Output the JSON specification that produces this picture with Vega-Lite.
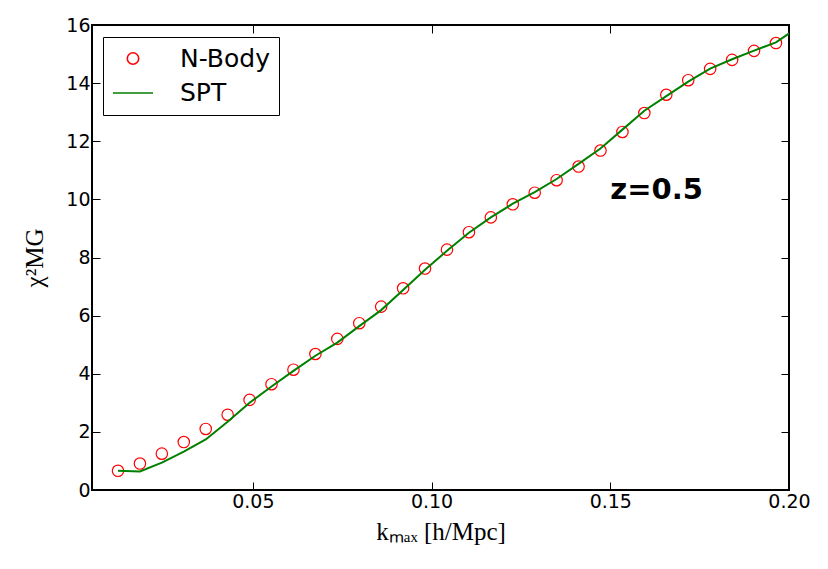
{
  "$schema": "https://vega.github.io/schema/vega-lite/v6.json",
  "width": 697,
  "height": 465,
  "autosize": {"type": "none"},
  "padding": {"left": 92, "top": 25, "right": 39, "bottom": 79},
  "background": "white",
  "config": {
    "view": {"stroke": "black", "strokeWidth": 2},
    "axis": {
      "domain": false,
      "grid": false,
      "ticks": true,
      "tickColor": "black",
      "tickSize": -8,
      "tickWidth": 1,
      "labelFlush": false,
      "labelFont": "DejaVu Sans",
      "labelFontSize": 19,
      "labelColor": "black",
      "labelPadding": 10,
      "titleColor": "black",
      "titleFont": "Liberation Serif",
      "titleFontWeight": "normal",
      "titleFontSize": 25
    },
    "legend": {
      "orient": "none",
      "legendX": 11,
      "legendY": 12,
      "labelFont": "DejaVu Sans",
      "labelFontSize": 25,
      "labelColor": "black",
      "strokeColor": "black",
      "fillColor": "white",
      "padding": 9,
      "rowPadding": 0,
      "symbolStrokeWidth": 1.6,
      "labelOffset": 26
    }
  },
  "datasets": {
    "nbody": [
      {"k": 0.01227, "chi2": 0.66, "series": "N-Body"},
      {"k": 0.01841, "chi2": 0.91, "series": "N-Body"},
      {"k": 0.02454, "chi2": 1.25, "series": "N-Body"},
      {"k": 0.03068, "chi2": 1.65, "series": "N-Body"},
      {"k": 0.03682, "chi2": 2.10, "series": "N-Body"},
      {"k": 0.04295, "chi2": 2.59, "series": "N-Body"},
      {"k": 0.04909, "chi2": 3.10, "series": "N-Body"},
      {"k": 0.05522, "chi2": 3.64, "series": "N-Body"},
      {"k": 0.06136, "chi2": 4.14, "series": "N-Body"},
      {"k": 0.06750, "chi2": 4.68, "series": "N-Body"},
      {"k": 0.07363, "chi2": 5.20, "series": "N-Body"},
      {"k": 0.07977, "chi2": 5.74, "series": "N-Body"},
      {"k": 0.08590, "chi2": 6.31, "series": "N-Body"},
      {"k": 0.09204, "chi2": 6.94, "series": "N-Body"},
      {"k": 0.09817, "chi2": 7.62, "series": "N-Body"},
      {"k": 0.10431, "chi2": 8.27, "series": "N-Body"},
      {"k": 0.11045, "chi2": 8.87, "series": "N-Body"},
      {"k": 0.11658, "chi2": 9.38, "series": "N-Body"},
      {"k": 0.12272, "chi2": 9.83, "series": "N-Body"},
      {"k": 0.12886, "chi2": 10.23, "series": "N-Body"},
      {"k": 0.13499, "chi2": 10.66, "series": "N-Body"},
      {"k": 0.14113, "chi2": 11.13, "series": "N-Body"},
      {"k": 0.14726, "chi2": 11.68, "series": "N-Body"},
      {"k": 0.15340, "chi2": 12.32, "series": "N-Body"},
      {"k": 0.15953, "chi2": 12.97, "series": "N-Body"},
      {"k": 0.16567, "chi2": 13.60, "series": "N-Body"},
      {"k": 0.17181, "chi2": 14.10, "series": "N-Body"},
      {"k": 0.17794, "chi2": 14.49, "series": "N-Body"},
      {"k": 0.18408, "chi2": 14.80, "series": "N-Body"},
      {"k": 0.19022, "chi2": 15.11, "series": "N-Body"},
      {"k": 0.19635, "chi2": 15.38, "series": "N-Body"}
    ],
    "spt": [
      {"k": 0.01227, "chi2": 0.66, "series": "SPT"},
      {"k": 0.01841, "chi2": 0.64, "series": "SPT"},
      {"k": 0.02454, "chi2": 0.94, "series": "SPT"},
      {"k": 0.03068, "chi2": 1.32, "series": "SPT"},
      {"k": 0.03682, "chi2": 1.74, "series": "SPT"},
      {"k": 0.04295, "chi2": 2.35, "series": "SPT"},
      {"k": 0.04909, "chi2": 3.00, "series": "SPT"},
      {"k": 0.05522, "chi2": 3.56, "series": "SPT"},
      {"k": 0.06136, "chi2": 4.10, "series": "SPT"},
      {"k": 0.06750, "chi2": 4.62, "series": "SPT"},
      {"k": 0.07363, "chi2": 5.07, "series": "SPT"},
      {"k": 0.07977, "chi2": 5.64, "series": "SPT"},
      {"k": 0.08590, "chi2": 6.19, "series": "SPT"},
      {"k": 0.09204, "chi2": 6.88, "series": "SPT"},
      {"k": 0.09817, "chi2": 7.58, "series": "SPT"},
      {"k": 0.10431, "chi2": 8.23, "series": "SPT"},
      {"k": 0.11045, "chi2": 8.85, "series": "SPT"},
      {"k": 0.11658, "chi2": 9.38, "series": "SPT"},
      {"k": 0.12272, "chi2": 9.85, "series": "SPT"},
      {"k": 0.12886, "chi2": 10.25, "series": "SPT"},
      {"k": 0.13499, "chi2": 10.70, "series": "SPT"},
      {"k": 0.14113, "chi2": 11.22, "series": "SPT"},
      {"k": 0.14726, "chi2": 11.75, "series": "SPT"},
      {"k": 0.15340, "chi2": 12.40, "series": "SPT"},
      {"k": 0.15953, "chi2": 13.05, "series": "SPT"},
      {"k": 0.16567, "chi2": 13.55, "series": "SPT"},
      {"k": 0.17181, "chi2": 14.05, "series": "SPT"},
      {"k": 0.17794, "chi2": 14.50, "series": "SPT"},
      {"k": 0.18408, "chi2": 14.82, "series": "SPT"},
      {"k": 0.19022, "chi2": 15.12, "series": "SPT"},
      {"k": 0.19635, "chi2": 15.40, "series": "SPT"},
      {"k": 0.20249, "chi2": 15.92, "series": "SPT"}
    ]
  },
  "layer": [
    {
      "data": {"name": "nbody"},
      "mark": {"type": "point", "filled": false, "strokeWidth": 1.2, "opacity": 1},
      "encoding": {
        "x": {
          "field": "k", "type": "quantitative",
          "scale": {"domain": [0.005, 0.2], "nice": false, "zero": false},
          "axis": {"orient": "bottom", "values": [0.05, 0.1, 0.15, 0.2], "format": ".2f", "title": "kₘₐₓ [h/Mpc]", "titlePadding": 8}
        },
        "y": {
          "field": "chi2", "type": "quantitative",
          "scale": {"domain": [0, 16], "nice": false, "zero": true},
          "axis": {"orient": "left", "values": [0, 2, 4, 6, 8, 10, 12, 14, 16], "title": "χ²MG", "titlePadding": 18}
        },
        "color": {
          "field": "series", "type": "nominal",
          "scale": {"domain": ["N-Body", "SPT"], "range": ["#ff0000", "#008000"]},
          "legend": {"title": null, "encode": {"legend": {"update": {"strokeWidth": {"value": 2}}}}}
        },
        "shape": {
          "field": "series", "type": "nominal",
          "scale": {"domain": ["N-Body", "SPT"], "range": ["circle", "stroke"]},
          "legend": {"title": null, "encode": {"legend": {"update": {"strokeWidth": {"value": 2}}}}}
        },
        "size": {
          "field": "series", "type": "nominal",
          "scale": {"domain": ["N-Body", "SPT"], "range": [130, 1600]},
          "legend": {"title": null, "encode": {"legend": {"update": {"strokeWidth": {"value": 2}}}}}
        }
      }
    },
    {
      "data": {"name": "spt"},
      "mark": {"type": "line", "strokeWidth": 2, "clip": true},
      "encoding": {
        "x": {
          "field": "k", "type": "quantitative",
          "scale": {"domain": [0.005, 0.2], "nice": false, "zero": false},
          "axis": {"orient": "top", "labels": false, "title": null, "values": [0.05, 0.1, 0.15, 0.2]}
        },
        "y": {
          "field": "chi2", "type": "quantitative",
          "scale": {"domain": [0, 16], "nice": false, "zero": true},
          "axis": {"orient": "right", "labels": false, "title": null, "values": [0, 2, 4, 6, 8, 10, 12, 14, 16]}
        },
        "color": {"field": "series", "type": "nominal", "legend": null}
      }
    },
    {
      "data": {"values": [{"k": 0.15, "chi2": 10, "label": "z=0.5"}]},
      "mark": {"type": "text", "align": "left", "baseline": "alphabetic", "font": "DejaVu Sans", "fontWeight": "bold", "fontSize": 29, "color": "black"},
      "encoding": {
        "x": {"field": "k", "type": "quantitative", "scale": {"domain": [0.005, 0.2], "nice": false, "zero": false}, "axis": null},
        "y": {"field": "chi2", "type": "quantitative", "scale": {"domain": [0, 16], "nice": false, "zero": true}, "axis": null},
        "text": {"field": "label"}
      }
    }
  ],
  "resolve": {"axis": {"x": "independent", "y": "independent"}}
}
